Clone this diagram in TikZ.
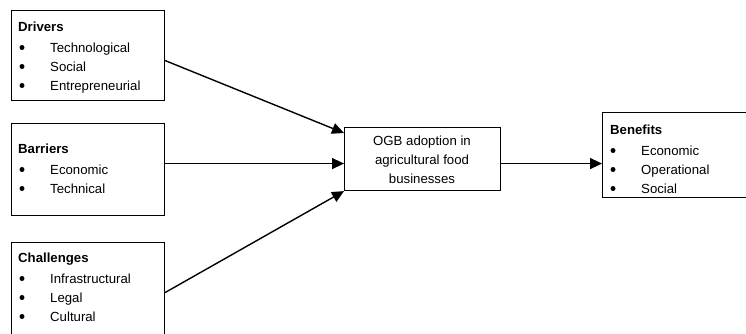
\documentclass[tikz,border=0pt]{standalone}
\usepackage{fontspec}
\setmainfont{Liberation Sans}
\usetikzlibrary{arrows.meta}
\begin{document}
\begin{tikzpicture}[x=1pt,y=-1pt,
  box/.style={draw=black, line width=1.1pt, inner sep=0pt, anchor=north west},
  txt/.style={anchor=base west, inner sep=0pt, font=\fontsize{13.2}{16}\selectfont},
  ttl/.style={txt, font=\fontsize{13.2}{16}\selectfont\bfseries},
  bul/.style={circle, fill=black, inner sep=0pt, minimum size=5pt},
  ctr/.style={anchor=base, inner sep=0pt, font=\fontsize{13.2}{16}\selectfont},
  arr/.style={line width=1.4pt, -{Triangle[length=12pt,width=11pt]}}]
\clip (0,0) rectangle (746,333);
\useasboundingbox (0,0) rectangle (746,333);
% boxes
\node[box, minimum width=153pt, minimum height=90pt] (drv) at (11,10) {};
\node[box, minimum width=153pt, minimum height=92pt] (bar) at (11,123) {};
\node[box, minimum width=153pt, minimum height=103pt] (chl) at (11,242) {};
\node[box, minimum width=156pt, minimum height=63pt] (ogb) at (344,127) {};
\node[box, minimum width=153pt, minimum height=85pt] (ben) at (602,112) {};
% Drivers
\node[ttl] (d0) at (18,31) {Drivers};
\node[bul] (db1) at (22,47.5) {};
\node[txt] (d1) at (50,52) {Technological};
\node[bul] (db2) at (22,66.5) {};
\node[txt] (d2) at (50,71) {Social};
\node[bul] (db3) at (22,85.5) {};
\node[txt] (d3) at (50,90) {Entrepreneurial};
% Barriers
\node[ttl] (b0) at (18,153) {Barriers};
\node[bul] (bb1) at (22,169.5) {};
\node[txt] (b1) at (50,174) {Economic};
\node[bul] (bb2) at (22,188.5) {};
\node[txt] (b2) at (50,193) {Technical};
% Challenges
\node[ttl] (c0) at (18,262) {Challenges};
\node[bul] (cb1) at (22,278.5) {};
\node[txt] (c1) at (50,283) {Infrastructural};
\node[bul] (cb2) at (22,297.5) {};
\node[txt] (c2) at (50,302) {Legal};
\node[bul] (cb3) at (22,316.5) {};
\node[txt] (c3) at (50,321) {Cultural};
% Middle
\node[ctr] (m1) at (422,145) {OGB adoption in};
\node[ctr] (m2) at (422,164) {agricultural food};
\node[ctr] (m3) at (422,183) {businesses};
% Benefits
\node[ttl] (e0) at (610,134) {Benefits};
\node[bul] (eb1) at (613,150.5) {};
\node[txt] (e1) at (641,155) {Economic};
\node[bul] (eb2) at (613,169.5) {};
\node[txt] (e2) at (641,174) {Operational};
\node[bul] (eb3) at (613,188.5) {};
\node[txt] (e3) at (641,193) {Social};
% connectors
\draw[arr] ([yshift=-5pt]drv.east) -- ([yshift=-6pt]ogb.north west);
\draw[arr] ([yshift=6pt]bar.east) -- ([yshift=-4.5pt]ogb.west);
\draw[arr] ([yshift=1.5pt]chl.east) -- (ogb.south west);
\draw[arr] ([yshift=-4.5pt]ogb.east) -- ([yshift=-8.5pt]ben.west);
\end{tikzpicture}
\end{document}
